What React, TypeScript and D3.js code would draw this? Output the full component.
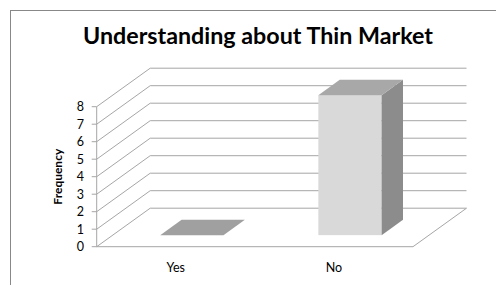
import React from "react";
import { scaleBand, scaleLinear, range } from "d3";

const categories = ["Yes", "No"];
const frequency = [0, 8];
const yTicks = [0, 1, 2, 3, 4, 5, 6, 7, 8];
const title = "Understanding about Thin Market";
const yTitle = "Frequency";

// 3d projection: full depth of the floor, and where the bars sit in it
const depth = { dx: 53.5, dy: -38.5 };
const barFront = 0.3;
const barBack = 0.7;

export default function App() {
  const width = 496;
  const height = 285;

  const x = scaleBand().domain(categories).range([96.7, 413]).paddingInner(0).paddingOuter(0);
  const y = scaleLinear().domain([0, 8]).range([246.7, 106.7]);

  const off = (t: number) => [depth.dx * t, depth.dy * t];
  const gridColor = "#a6a6a6";

  const [fx, fy] = off(barFront);
  const [bx, by] = off(barBack);

  const pts = (p: number[][]) => p.map((q) => q.join(",")).join(" ");

  return (
    <svg
      width={width}
      height={height}
      style={{ position: "absolute", left: 0, top: 0, background: "#fff" }}
      fontFamily="Lato, 'Open Sans', sans-serif"
    >
      <rect x={10.5} y={10.5} width={600} height={400} fill="#fff" stroke="#888" strokeWidth={1} />
      <text
        x={258}
        y={44}
        textAnchor="middle"
        fontSize={22}
        fontWeight="bold"
        fill="#000"
        textLength={350}
        lengthAdjust="spacingAndGlyphs"
      >
        {title}
      </text>

      {/* floor */}
      <polyline
        points={pts([
          [x.range()[0], y(0)],
          [x.range()[1], y(0)],
          [x.range()[1] + depth.dx, y(0) + depth.dy],
        ])}
        fill="none"
        stroke={gridColor}
      />

      {/* walls: diagonal + back gridlines */}
      {yTicks.map((t) => (
        <polyline
          key={t}
          points={pts([
            [x.range()[0], y(t)],
            [x.range()[0] + depth.dx, y(t) + depth.dy],
            [x.range()[1] + depth.dx, y(t) + depth.dy],
          ])}
          fill="none"
          stroke={gridColor}
        />
      ))}

      {/* y axis */}
      <line x1={x.range()[0]} x2={x.range()[0]} y1={y(0)} y2={y(8)} stroke={gridColor} />
      {yTicks.map((t) => (
        <g key={"t" + t}>
          <line x1={x.range()[0] - 5} x2={x.range()[0]} y1={y(t)} y2={y(t)} stroke={gridColor} />
          <text x={84} y={y(t) + 4.5} textAnchor="end" fontSize={12.5} fill="#000">
            {t}
          </text>
        </g>
      ))}
      <text
        transform={`translate(62,${(y(0) + y(8)) / 2}) rotate(-90)`}
        textAnchor="middle"
        fontSize={12}
        fontWeight="bold"
        fill="#000"
      >
        {yTitle}
      </text>

      {/* bars */}
      {range(categories.length).map((i) => {
        const c = categories[i];
        const v = frequency[i];
        const bw = x.bandwidth() * 0.4;
        const x0 = (x(c) as number) + x.bandwidth() / 2 - bw / 2 + fx;
        const x1 = x0 + bw;
        const yb = y(0) + fy;
        const yt = y(v) + fy;
        const ddx = bx - fx;
        const ddy = by - fy;
        const isFlat = v === 0;
        return (
          <g key={c}>
            {!isFlat && <rect x={x0} y={yt} width={bw} height={yb - yt} fill="#d9d9d9" />}
            {!isFlat && (
              <polygon
                points={pts([
                  [x1, yt],
                  [x1 + ddx, yt + ddy],
                  [x1 + ddx, yb + ddy],
                  [x1, yb],
                ])}
                fill="#8c8c8c"
              />
            )}
            <polygon
              points={pts([
                [x0, yt],
                [x0 + ddx, yt + ddy],
                [x1 + ddx, yt + ddy],
                [x1, yt],
              ])}
              fill={isFlat ? "#a0a0a0" : "#a8a8a8"}
            />
          </g>
        );
      })}

      {/* x labels */}
      {categories.map((c) => (
        <text key={"l" + c} x={(x(c) as number) + x.bandwidth() / 2} y={272} textAnchor="middle" fontSize={12.5} fill="#000">
          {c}
        </text>
      ))}
    </svg>
  );
}
